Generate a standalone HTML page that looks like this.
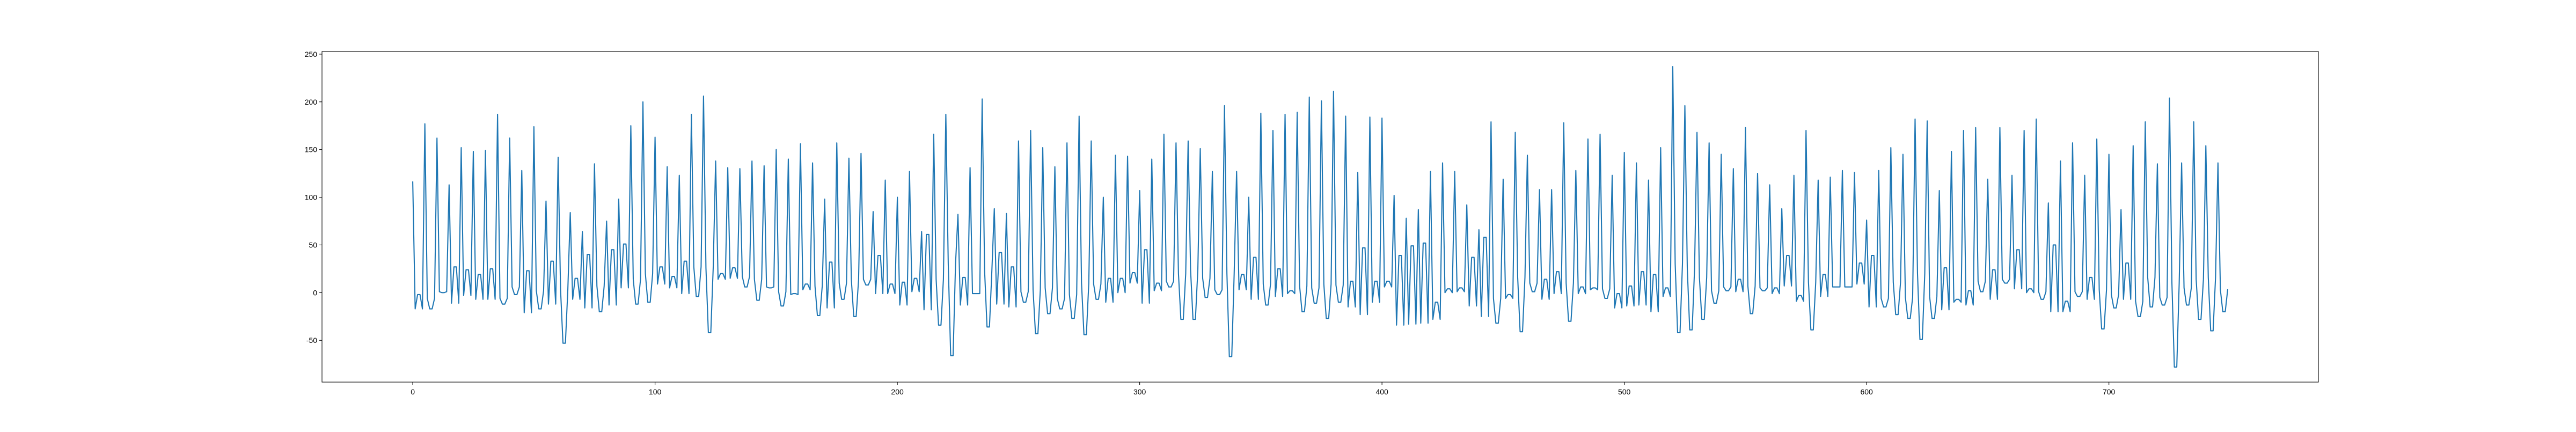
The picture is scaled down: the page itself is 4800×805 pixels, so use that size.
<!DOCTYPE html>
<html>
<head>
<meta charset="utf-8">
<style>
  html, body { margin: 0; padding: 0; background: #ffffff; }
  body { width: 4800px; height: 800px; overflow: hidden; }
  svg text { font-family: "Liberation Sans", "DejaVu Sans", sans-serif; font-size: 14px; fill: #000; }
</style>
</head>
<body>
<svg id="chart" width="4800" height="800" viewBox="0 0 4800 800" xmlns="http://www.w3.org/2000/svg">
  <rect x="0" y="0" width="4800" height="800" fill="#ffffff"></rect>
  <g id="plot"></g>
  <g id="xaxis"></g>
  <g id="yaxis"></g>
  <rect x="600" y="96" width="3720" height="616" fill="none" stroke="#000" stroke-width="1.1"></rect>
</svg>
<script>
// Per-beat values (each beat spans 5 samples: peak, shoulder, trough, trough, shoulder)
const beatPeaks = [116,177,162,113,152,148,149,187,162,128,
174,96,142,84,64,135,75,98,175,200,
163,132,123,187,206,138,131,130,138,133,
150,140,156,136,98,157,141,146,85,118,
100,127,64,166,187,82,131,203,88,83,
159,170,152,132,157,185,159,100,144,143,
107,140,166,157,159,151,127,196,127,100,
188,170,187,189,205,201,211,185,126,184,
183,102,78,87,127,136,127,92,66,179,
119,168,144,108,108,178,128,161,166,123,
147,136,118,152,237,196,168,157,145,130,
173,125,113,88,123,170,118,121,128,126,
76,128,152,145,182,180,107,148,170,173,
119,173,123,170,182,94,138,157,123,161,
145,87,154,179,135,204,136,179,154,136];
const beatShoulders = [-17,-6,1,-11,-3,-7,-7,-6,6,-21,
2,-12,3,-7,-16,7,-13,5,14,20,
9,5,-1,27,26,14,15,17,14,6,
1,-2,3,7,-16,10,14,14,-1,-1,
-13,1,-18,14,30,-13,-1,23,-12,-15,
1,3,5,-6,-2,10,9,-10,0,10,
-11,2,12,20,24,15,3,20,3,-7,
9,-4,-1,7,5,9,8,-15,-23,-10,
6,-34,-33,-32,-28,0,1,-14,-25,-6,
-6,16,10,-7,-1,10,-1,3,4,-16,
-14,-13,-20,-4,30,25,16,2,6,1,
7,5,-1,7,-9,11,-4,6,6,9,
-15,-6,11,-5,20,-4,-18,-10,-13,12,
-7,14,4,0,1,-20,-20,1,-7,3,
-2,-7,-9,16,-5,10,5,14,16,3];
const beatTroughs = [-2,-17,0,27,24,19,25,-12,-2,23,
-17,33,-53,15,40,-20,45,51,-12,-10,
27,17,33,-4,-42,20,26,6,-8,5,
-14,-1,9,-24,32,-7,-25,8,39,9,
11,15,61,-34,-66,16,-1,-36,42,27,
-10,-43,-22,-17,-27,-44,-7,15,15,21,
45,10,6,-28,-28,-5,-2,-67,19,37,
-13,25,2,-20,-11,-27,-10,12,47,12,
12,39,49,52,-10,4,5,37,58,-32,
-2,-41,1,14,22,-30,6,5,-6,-1,
7,22,19,5,-42,-39,-28,-11,2,14,
-22,2,5,39,-3,-39,19,6,6,31,
39,-15,-23,-27,-49,-27,26,-7,2,1,
24,10,45,4,-7,50,-9,-4,16,-38,
-16,31,-25,-15,-13,-78,-13,-28,-40,-20];
const xTickValues = [0,100,200,300,400,500,600,700];
const yTickValues = [-50,0,50,100,150,200,250];

const NS = 'http://www.w3.org/2000/svg';
const AX = {left: 600, right: 4320, top: 96, bottom: 712};

// expand beats into the sample series
const series = [];
for (let k = 0; k < beatPeaks.length; k++) {
  series.push(beatPeaks[k], beatShoulders[k], beatTroughs[k], beatTroughs[k], beatShoulders[k]);
}
const n = series.length;
const xMinD = 0, xMaxD = n - 1;
const xPad = (xMaxD - xMinD) * 0.05;
const xLo = xMinD - xPad, xHi = xMaxD + xPad;
const yMinD = Math.min(...series), yMaxD = Math.max(...series);
const yPad = (yMaxD - yMinD) * 0.05;
const yLo = yMinD - yPad, yHi = yMaxD + yPad;

function xScale(v) { return AX.left + (v - xLo) / (xHi - xLo) * (AX.right - AX.left); }
function yScale(v) { return AX.bottom - (v - yLo) / (yHi - yLo) * (AX.bottom - AX.top); }

const plot = document.getElementById('plot');
let d = '';
for (let i = 0; i < n; i++) {
  d += (i === 0 ? 'M' : 'L') + xScale(i).toFixed(2) + ',' + yScale(series[i]).toFixed(2);
}
const path = document.createElementNS(NS, 'path');
path.setAttribute('d', d);
path.setAttribute('fill', 'none');
path.setAttribute('stroke', '#1f77b4');
path.setAttribute('stroke-width', '2.1');
path.setAttribute('stroke-linejoin', 'round');
path.setAttribute('stroke-linecap', 'square');


plot.appendChild(path);

const xg = document.getElementById('xaxis');
xTickValues.forEach(v => {
  const x = xScale(v);
  const t = document.createElementNS(NS, 'line');
  t.setAttribute('x1', x); t.setAttribute('x2', x);
  t.setAttribute('y1', AX.bottom); t.setAttribute('y2', AX.bottom + 5);
  t.setAttribute('stroke', '#000'); t.setAttribute('stroke-width', '1.1');
  
  
  xg.appendChild(t);
  const lb = document.createElementNS(NS, 'text');
  lb.setAttribute('x', x); lb.setAttribute('y', AX.bottom + 23);
  lb.setAttribute('text-anchor', 'middle');
  lb.textContent = String(v);
  
  
  xg.appendChild(lb);
});

const yg = document.getElementById('yaxis');
yTickValues.forEach(v => {
  const y = yScale(v);
  const t = document.createElementNS(NS, 'line');
  t.setAttribute('x1', AX.left - 5); t.setAttribute('x2', AX.left);
  t.setAttribute('y1', y); t.setAttribute('y2', y);
  t.setAttribute('stroke', '#000'); t.setAttribute('stroke-width', '1.1');
  
  
  yg.appendChild(t);
  const lb = document.createElementNS(NS, 'text');
  lb.setAttribute('x', AX.left - 9); lb.setAttribute('y', y + 5);
  lb.setAttribute('text-anchor', 'end');
  lb.textContent = String(v);
  
  
  yg.appendChild(lb);
});
</script>
</body>
</html>
